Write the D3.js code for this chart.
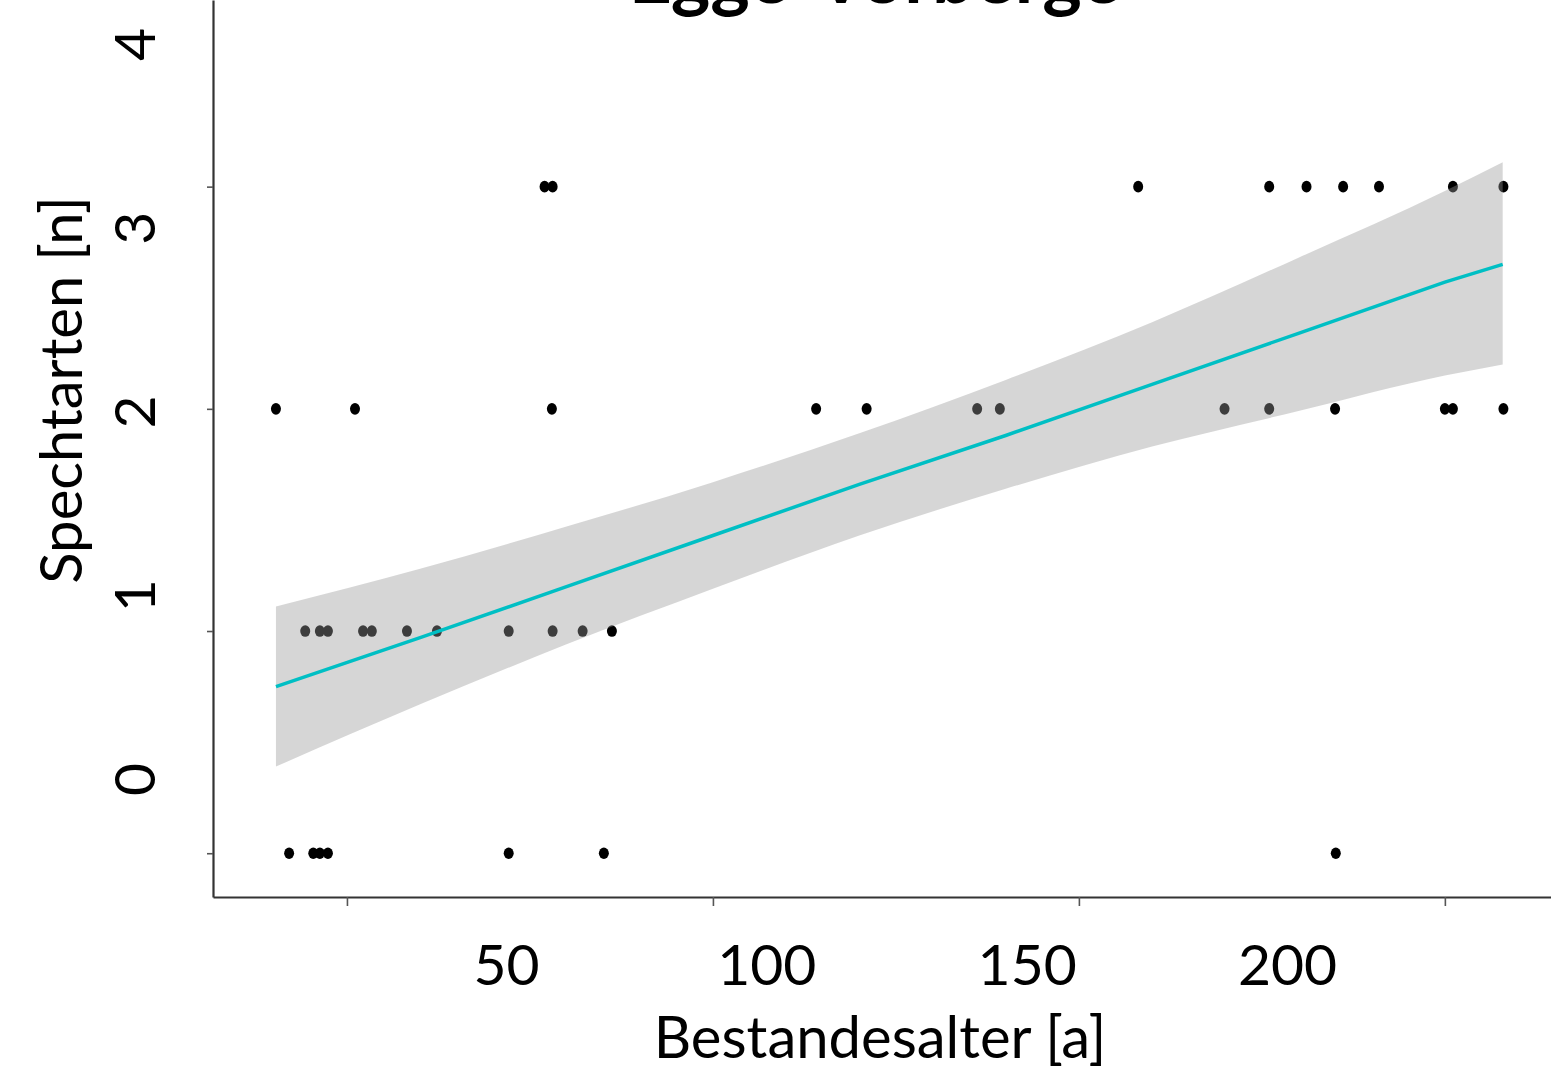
<!DOCTYPE html>
<meta charset="utf-8">
<style>
body {
  margin: 0;
  background: #fff;
}
svg {
  display: block;
  background: #fff;
}
.axis path {
  fill: none;
  stroke: #333;
  stroke-width: 2.2px;
}
.axis line {
  stroke: #555;
  stroke-width: 1.6px;
}
.labels path,
.labels line {
  display: none;
}
.labels text {
  font-family: Lato, sans-serif;
  font-size: 57px;
  fill: #000;
}
.title {
  font-family: Lato, sans-serif;
  font-weight: bold;
  font-size: 75px;
}
.axis-title {
  font-family: Lato, sans-serif;
  font-size: 58px;
}
.band {
  fill: #999;
  fill-opacity: 0.4;
}
.fit {
  fill: none;
  stroke: #00bfc4;
  stroke-width: 3.5px;
}
</style>
<body>
<div id="chart"></div>
<script src="https://d3js.org/d3.v7.min.js"></script>
<script>
// Stand age [a] and number of woodpecker species per plot
var standAge = [
  77.0, 78.1, 158.1, 176.0, 181.1, 186.1, 191.0, 201.1, 208.0,
  40.3, 51.1, 78.0, 114.1, 121.0, 136.1, 139.2, 169.9, 176.0, 185.0, 200.0, 201.1, 208.0,
  44.3, 46.3, 47.4, 52.2, 53.4, 58.2, 62.3, 72.1, 78.1, 82.2, 86.2,
  42.1, 45.4, 46.3, 47.4, 72.1, 85.1, 185.1
];
var speciesCount = [
  3, 3, 3, 3, 3, 3, 3, 3, 3,
  2, 2, 2, 2, 2, 2, 2, 2, 2, 2, 2, 2, 2,
  1, 1, 1, 1, 1, 1, 1, 1, 1, 1, 1,
  0, 0, 0, 0, 0, 0, 0
];

// linear fit with confidence band
var fitAge   = [40.3, 60, 80, 100, 120, 140, 160, 180, 200, 207.9];
var fitMean  = [0.75, 0.97, 1.20, 1.43, 1.66, 1.88, 2.11, 2.34, 2.57, 2.65];
var fitLower = [0.39, 0.67, 0.94, 1.19, 1.43, 1.64, 1.83, 1.99, 2.15, 2.20];
var fitUpper = [1.11, 1.28, 1.47, 1.67, 1.89, 2.13, 2.39, 2.68, 2.98, 3.11];

var xTicks = [50, 100, 150, 200];
var yTicks = [0, 1, 2, 3];
var xTickLabels = ["50", "100", "150", "200"];
var yTickLabels = ["0", "1", "2", "3", "4"];

var width = 1551, height = 1070;
var plot = {left: 213, right: 1551, top: 0, bottom: 897};

var svg = d3.select("#chart").append("svg")
  .attr("width", width)
  .attr("height", height);

var x = d3.scaleLinear().domain([31.7, 214.5]).range([plot.left, plot.right]);
var y = d3.scaleLinear().domain([-0.197, 3.84]).range([plot.bottom, plot.top]);

// the printed labels sit on their own spacing
var xLab = d3.scaleLinear().domain([50, 200]).range([506, 1287]);
var yLab = d3.scaleLinear().domain([0, 4]).range([779, 44]);

// points
svg.append("g").selectAll("ellipse")
  .data(standAge)
  .enter().append("ellipse")
  .attr("cx", function(d) { return x(d); })
  .attr("cy", function(d, i) { return y(speciesCount[i]); })
  .attr("rx", 5)
  .attr("ry", 5.8)
  .attr("fill", "#000");

var fit = fitAge.map(function(a, i) {
  return {age: a, mean: fitMean[i], lo: fitLower[i], hi: fitUpper[i]};
});

svg.append("path")
  .datum(fit)
  .attr("class", "band")
  .attr("d", d3.area()
    .curve(d3.curveMonotoneX)
    .x(function(d) { return x(d.age); })
    .y0(function(d) { return y(d.lo); })
    .y1(function(d) { return y(d.hi); }));

svg.append("path")
  .datum(fit)
  .attr("class", "fit")
  .attr("d", d3.line()
    .x(function(d) { return x(d.age); })
    .y(function(d) { return y(d.mean); }));

// axes
svg.append("g")
  .attr("class", "axis")
  .attr("transform", "translate(0," + plot.bottom + ")")
  .call(d3.axisBottom(x).tickValues(xTicks).tickSize(9).tickSizeOuter(0).tickFormat(""));

svg.append("g")
  .attr("class", "axis")
  .attr("transform", "translate(" + plot.left + ",0)")
  .call(d3.axisLeft(y).tickValues(yTicks).tickSize(6).tickSizeOuter(0).tickFormat(""));

svg.append("g")
  .attr("class", "labels")
  .attr("transform", "translate(0,985)")
  .call(d3.axisBottom(xLab).tickValues(xTicks).tickSize(0).tickPadding(0)
    .tickFormat(function(d, i) { return xTickLabels[i]; }))
  .selectAll("text")
  .attr("y", 0)
  .attr("dy", 0);

svg.append("g")
  .attr("class", "labels")
  .attr("transform", "translate(155,0)")
  .call(d3.axisLeft(yLab).tickValues([0, 1, 2, 3, 4]).tickSize(0).tickPadding(0)
    .tickFormat(function(d, i) { return yTickLabels[i]; }))
  .selectAll("text")
  .attr("x", 0)
  .attr("dy", 0)
  .attr("transform", "rotate(-90)")
  .style("text-anchor", "middle");

// titles
svg.append("text")
  .attr("class", "title")
  .attr("x", 875)
  .attr("y", 3)
  .style("text-anchor", "middle")
  .text("Egge-Vorberge");

svg.append("text")
  .attr("class", "axis-title")
  .attr("x", 880)
  .attr("y", 1058)
  .style("text-anchor", "middle")
  .text("Bestandesalter [a]");

svg.append("text")
  .attr("class", "axis-title")
  .attr("transform", "translate(82,390) rotate(-90)")
  .style("text-anchor", "middle")
  .text("Spechtarten [n]");
</script>
